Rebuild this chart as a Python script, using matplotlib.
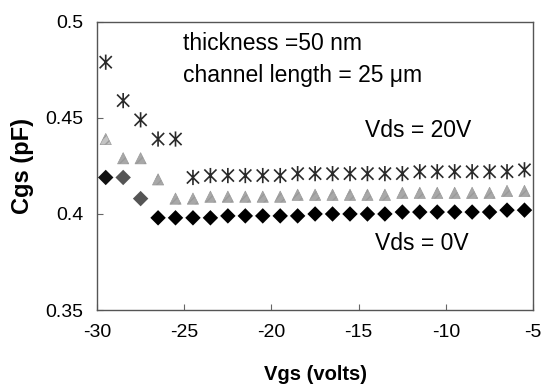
import matplotlib
matplotlib.use("Agg")
import matplotlib.pyplot as plt
from matplotlib.path import Path

plt.rcParams['font.family'] = ['Liberation Sans', 'DejaVu Sans']

# ======= data =======
vgs = [-29.5, -28.5, -27.5, -26.5, -25.5, -24.5, -23.5, -22.5, -21.5, -20.5,
       -19.5, -18.5, -17.5, -16.5, -15.5, -14.5, -13.5, -12.5, -11.5, -10.5,
       -9.5, -8.5, -7.5, -6.5, -5.5]
cgs_20v = [0.479, 0.459, 0.449, 0.439, 0.439, 0.419, 0.420, 0.420, 0.420, 0.420,
           0.420, 0.421, 0.421, 0.421, 0.421, 0.421, 0.421, 0.421, 0.422, 0.422,
           0.422, 0.422, 0.422, 0.422, 0.423]
cgs_mid = [0.439, 0.429, 0.429, 0.418, 0.408, 0.408, 0.409, 0.409, 0.409, 0.409,
           0.409, 0.410, 0.410, 0.410, 0.410, 0.410, 0.410, 0.411, 0.411, 0.411,
           0.411, 0.411, 0.411, 0.412, 0.412]
cgs_0v = [0.419, 0.419, 0.408, 0.398, 0.398, 0.398, 0.398, 0.399, 0.399, 0.399,
          0.399, 0.399, 0.400, 0.400, 0.400, 0.400, 0.400, 0.401, 0.401, 0.401,
          0.401, 0.401, 0.401, 0.402, 0.402]
xticks = [-30, -25, -20, -15, -10, -5]
yticks = [0.35, 0.4, 0.45, 0.5]
ytick_labels = ['0.35', '0.4', '0.45', '0.5']

# asterisk marker: X plus vertical bar
star = Path([(0, -1), (0, 1), (-0.8, -0.8), (0.8, 0.8), (-0.8, 0.8), (0.8, -0.8)],
            [Path.MOVETO, Path.LINETO, Path.MOVETO, Path.LINETO, Path.MOVETO, Path.LINETO])

diamond_colors = ['#111111', '#555555', '#555555'] + ['#000000'] * (len(vgs) - 3)
tri_colors = ['#c4c4c4'] + ['#a8a8a8'] * (len(vgs) - 1)

fig = plt.figure(figsize=(5.48, 3.90), dpi=100)
ax = fig.add_axes([0.177, 0.205, 0.796, 0.739])

ax.scatter(vgs, cgs_20v, marker=star, s=120, facecolor='none', edgecolor='#2a2a2a',
           linewidth=1.2, zorder=3)
ax.scatter(vgs, cgs_mid, marker='^', s=65, c=tri_colors, edgecolor='#9a9a9a',
           linewidth=0.5, hatch='////', zorder=3)
ax.scatter(vgs, cgs_0v, marker='D', s=62, c=diamond_colors, edgecolor='none', zorder=3)

ax.set_xlim(-30, -5)
ax.set_ylim(0.35, 0.5)
ax.set_xticks(xticks)
ax.set_xticklabels([str(v) for v in xticks])
ax.set_yticks(yticks)
ax.set_yticklabels(ytick_labels)
ax.tick_params(direction='in', length=4, width=0.8, labelsize=14, pad=10,
               color='#666666')
for sp in ax.spines.values():
    sp.set_color('#555555')
    sp.set_linewidth(1.0)

ax.set_xlabel('Vgs (volts)', fontsize=14.5, fontweight='bold', labelpad=17)
ax.set_ylabel('Cgs (pF)', fontsize=17, fontweight='bold', labelpad=8)

ax.text(0.197, 0.903, 'thickness =50 nm', transform=ax.transAxes, fontsize=16.5,
        va='baseline')
ax.text(0.197, 0.792, 'channel length = 25 μm', transform=ax.transAxes, fontsize=16.5,
        va='baseline')
ax.text(0.615, 0.60, 'Vds = 20V', transform=ax.transAxes, fontsize=16.5, va='baseline')
ax.text(0.638, 0.208, 'Vds = 0V', transform=ax.transAxes, fontsize=16.5, va='baseline')

fig.savefig('out.png', dpi=100)
